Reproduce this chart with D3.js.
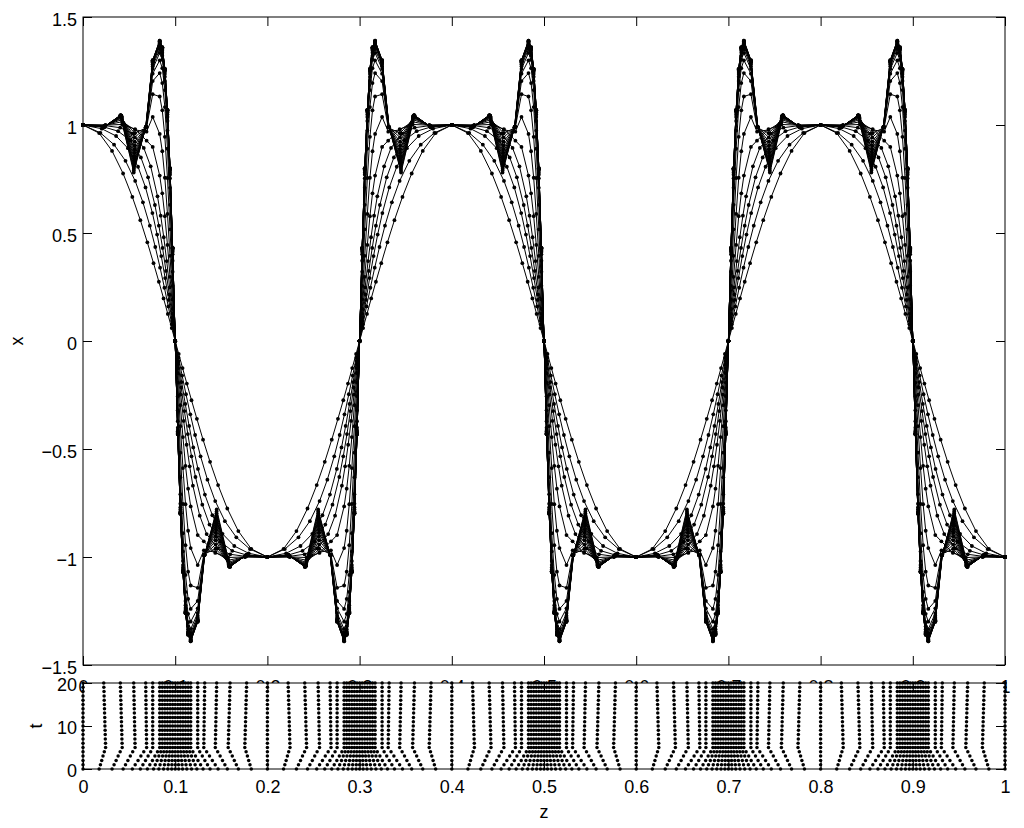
<!DOCTYPE html>
<html><head><meta charset="utf-8">
<script src="https://cdn.jsdelivr.net/npm/d3@7"></script>
<style>
body{margin:0;background:#fff}
svg{display:block}
text{font-family:"Liberation Sans",Arial,Helvetica,sans-serif;fill:#000}
</style>
</head><body>
<svg id="chart" width="1024" height="828"></svg>
<script>
// ---------------- data ----------------
// output times of the moving-mesh run
const times = [0,1,2,3,4,5,6,7,8,9,10,11,12,13,14,15,16,17,18,19,20];

// mesh node positions z on the base cell [0, 0.1] (13 nodes), one row per time
const meshZ = [
 [0,.0175,.0315,.0435,.0535,.0622,.0698,.0765,.0823,.0874,.0920,.0962,.1],
 [0,.0189,.0337,.0461,.0566,.0650,.0725,.0784,.0836,.0883,.0925,.0964,.1],
 [0,.0203,.0359,.0487,.0597,.0678,.0753,.0804,.0849,.0891,.0930,.0966,.1],
 [0,.0217,.0381,.0513,.0628,.0706,.0780,.0823,.0863,.0900,.0935,.0968,.1],
 [0,.0231,.0403,.0539,.0659,.0734,.0808,.0843,.0876,.0908,.0940,.0970,.1],
 [0,.0245,.0425,.0565,.0690,.0756,.0832,.0860,.0888,.0916,.0944,.0972,.1],
 [0,.0244,.0424,.0564,.0689,.0756,.0832,.0860,.0888,.0916,.0944,.0972,.1],
 [0,.0242,.0422,.0563,.0689,.0756,.0832,.0860,.0888,.0916,.0944,.0972,.1],
 [0,.0241,.0421,.0562,.0688,.0756,.0832,.0860,.0888,.0916,.0944,.0972,.1],
 [0,.0240,.0420,.0561,.0687,.0756,.0832,.0860,.0888,.0916,.0944,.0972,.1],
 [0,.0238,.0418,.0560,.0687,.0756,.0832,.0860,.0888,.0916,.0944,.0972,.1],
 [0,.0237,.0417,.0559,.0686,.0756,.0832,.0860,.0888,.0916,.0944,.0972,.1],
 [0,.0236,.0416,.0558,.0685,.0756,.0832,.0860,.0888,.0916,.0944,.0972,.1],
 [0,.0234,.0414,.0557,.0685,.0756,.0832,.0860,.0888,.0916,.0944,.0972,.1],
 [0,.0233,.0413,.0556,.0684,.0756,.0832,.0860,.0888,.0916,.0944,.0972,.1],
 [0,.0232,.0412,.0555,.0683,.0756,.0832,.0860,.0888,.0916,.0944,.0972,.1],
 [0,.0230,.0410,.0554,.0683,.0756,.0832,.0860,.0888,.0916,.0944,.0972,.1],
 [0,.0229,.0409,.0553,.0682,.0756,.0832,.0860,.0888,.0916,.0944,.0972,.1],
 [0,.0228,.0408,.0552,.0681,.0756,.0832,.0860,.0888,.0916,.0944,.0972,.1],
 [0,.0226,.0406,.0551,.0681,.0756,.0832,.0860,.0888,.0916,.0944,.0972,.1],
 [0,.0225,.0405,.0550,.0680,.0756,.0832,.0860,.0888,.0916,.0944,.0972,.1]
];

// solution x at those nodes, one row per time
const solX = [
 [1,.9625,.8801,.7755,.6672,.5596,.4567,.3602,.2744,.1969,.1253,.0597,0],
 [1,.9634,.9089,.8340,.7410,.6422,.5338,.4352,.3395,.2466,.1599,.0773,0],
 [1,.9828,.9491,.8925,.8067,.7112,.5921,.4927,.3932,.2911,.1900,.0931,0],
 [1,.9920,.9714,.9289,.8499,.7577,.6296,.5341,.4311,.3244,.2152,.1073,0],
 [1,.9974,.9875,.9603,.8938,.8088,.6700,.5802,.4803,.3701,.2480,.1260,0],
 [1,.9994,1.0024,.9810,.9276,.8983,.7658,.6835,.5780,.4449,.2969,.1491,0],
 [1,.9992,1.0150,.9774,.9689,1.0372,.9585,.8784,.7557,.5884,.3945,.1924,0],
 [1,.9983,1.0248,.9619,.9879,1.1425,1.1319,1.0678,.9451,.7546,.5169,.2553,0],
 [1,.9974,1.0315,.9427,.9916,1.2034,1.2406,1.1943,1.0830,.8901,.6305,.3208,0],
 [1,.9965,1.0360,.9230,.9916,1.2375,1.2994,1.2633,1.1616,.9740,.7093,.3715,0],
 [1,.9957,1.0392,.9054,.9911,1.2596,1.3339,1.3021,1.2041,1.0190,.7531,.4014,0],
 [1,.9949,1.0410,.8878,.9909,1.2719,1.3518,1.3210,1.2230,1.0373,.7698,.4125,0],
 [1,.9942,1.0423,.8724,.9906,1.2810,1.3647,1.3342,1.2356,1.0482,.7791,.4183,0],
 [1,.9935,1.0432,.8570,.9904,1.2871,1.3734,1.3435,1.2449,1.0573,.7877,.4241,0],
 [1,.9929,1.0437,.8438,.9903,1.2902,1.3782,1.3489,1.2511,1.0644,.7955,.4302,0],
 [1,.9923,1.0441,.8306,.9902,1.2932,1.3822,1.3528,1.2542,1.0663,.7963,.4303,0],
 [1,.9918,1.0443,.8196,.9902,1.2947,1.3842,1.3547,1.2558,1.0673,.7967,.4303,0],
 [1,.9913,1.0446,.8086,.9901,1.2962,1.3862,1.3566,1.2573,1.0683,.7971,.4303,0],
 [1,.9908,1.0448,.7976,.9900,1.2977,1.3882,1.3585,1.2589,1.0692,.7975,.4304,0],
 [1,.9904,1.0450,.7888,.9900,1.3000,1.3900,1.3600,1.2600,1.0700,.8000,.4300,0],
 [1,.9900,1.0450,.7800,.9900,1.3000,1.3900,1.3600,1.2600,1.0700,.8000,.4300,0]
];

const zTicks = [0,0.1,0.2,0.3,0.4,0.5,0.6,0.7,0.8,0.9,1];
const zTickLabels = ["0","0.1","0.2","0.3","0.4","0.5","0.6","0.7","0.8","0.9","1"];
const xTicks = [-1.5,-1,-0.5,0,0.5,1,1.5];
const xTickLabels = ["\u22121.5","\u22121","\u22120.5","0","0.5","1","1.5"];
const tTicks = [0,10,20];
const tTickLabels = ["0","10","20"];

// the solution is odd about z=0.1 and even about z=0.2 (period 0.4):
// the base cell is reflected to fill [0,1]
function fullRow(zb, xb){
  const n = zb.length - 1, pts = [];
  for (let k = 0; k < 10; k++){
    const off = 0.4*Math.floor(k/4), r = k % 4;
    for (let m = 0; m < n; m++){
      if (r===0) pts.push([off+zb[m], xb[m]]);
      else if (r===1) pts.push([off+0.2-zb[n-m], -xb[n-m]]);
      else if (r===2) pts.push([off+0.2+zb[m], -xb[m]]);
      else pts.push([off+0.4-zb[n-m], xb[n-m]]);
    }
  }
  pts.push([0.8+0.2+zb[0], -xb[0]]);
  return pts;
}
const rows = times.map((t,i)=>({t, pts: fullRow(meshZ[i], solX[i])}));

// ---------------- layout ----------------
const L=83, R=1005, T1=17, B1=665, T2=683, B2=769, TL=9, FS=18;
const svg = d3.select("#chart");
const zS = d3.scaleLinear().domain([0,1]).range([L,R]);
const xS = d3.scaleLinear().domain([-1.5,1.5]).range([B1,T1]);
const tS = d3.scaleLinear().domain([0,20]).range([B2,T2]);

function clean(g){
  g.select(".domain").remove();
  g.selectAll("line").attr("stroke","#000").attr("stroke-width",1);
  g.selectAll("text").style("font-size",FS+"px").attr("fill","#000");
}

// ---- top panel ----
const gTop = svg.append("g");
const line = d3.line().x(d=>zS(d[0])).y(d=>xS(d[1]));
rows.forEach(r=>{
  gTop.append("path").attr("d", line(r.pts)).attr("fill","none")
     .attr("stroke","#000").attr("stroke-width",1);
});
rows.forEach(r=>{
  gTop.append("g").selectAll("circle").data(r.pts).join("circle")
    .attr("cx",d=>zS(d[0])).attr("cy",d=>xS(d[1])).attr("r",1.9).attr("fill","#000");
});
gTop.append("g").attr("transform",`translate(0,${B1})`)
  .call(d3.axisBottom(zS).tickValues(zTicks).tickSize(-TL).tickPadding(15)
        .tickFormat((d,i)=>zTickLabels[i])).call(clean);
gTop.append("g").attr("transform",`translate(0,${T1})`)
  .call(d3.axisTop(zS).tickValues(zTicks).tickSize(-TL).tickFormat("")).call(clean);
const yl = gTop.append("g").attr("transform",`translate(${L},0)`)
  .call(d3.axisLeft(xS).tickValues(xTicks).tickSize(-TL).tickPadding(6)
        .tickFormat((d,i)=>xTickLabels[i])).call(clean);
yl.selectAll("text").attr("dy","0.45em");
gTop.append("g").attr("transform",`translate(${R},0)`)
  .call(d3.axisRight(xS).tickValues(xTicks).tickSize(-TL).tickFormat("")).call(clean);
gTop.append("rect").attr("x",L).attr("y",T1).attr("width",R-L).attr("height",B1-T1)
  .attr("fill","none").attr("stroke","#000").attr("stroke-width",1);
svg.append("text").attr("transform",`translate(23,${(T1+B1)/2}) rotate(-90)`)
  .attr("text-anchor","middle").style("font-size",FS+"px").text("x");

// ---- bottom panel (mesh trajectories) ----
const gBot = svg.append("g");
gBot.append("rect").attr("x",L).attr("y",T2).attr("width",R-L).attr("height",B2-T2).attr("fill","#fff");
rows.forEach(r=>{
  gBot.append("g").selectAll("circle").data(r.pts).join("circle")
    .attr("cx",d=>zS(d[0])).attr("cy",tS(r.t)).attr("r",1.75).attr("fill","#000");
});
gBot.append("g").attr("transform",`translate(0,${B2})`)
  .call(d3.axisBottom(zS).tickValues(zTicks).tickSize(-TL).tickPadding(11)
        .tickFormat((d,i)=>zTickLabels[i])).call(clean);
gBot.append("g").attr("transform",`translate(0,${T2})`)
  .call(d3.axisTop(zS).tickValues(zTicks).tickSize(-TL).tickFormat("")).call(clean);
const tl = gBot.append("g").attr("transform",`translate(${L},0)`)
  .call(d3.axisLeft(tS).tickValues(tTicks).tickSize(-TL).tickPadding(6)
        .tickFormat((d,i)=>tTickLabels[i])).call(clean);
tl.selectAll("text").attr("dy","0.4em");
gBot.append("g").attr("transform",`translate(${R},0)`)
  .call(d3.axisRight(tS).tickValues(tTicks).tickSize(-TL).tickFormat("")).call(clean);
gBot.append("rect").attr("x",L).attr("y",T2).attr("width",R-L).attr("height",B2-T2)
  .attr("fill","none").attr("stroke","#000").attr("stroke-width",1);
svg.append("text").attr("transform",`translate(42,${(T2+B2)/2}) rotate(-90)`)
  .attr("text-anchor","middle").style("font-size",FS+"px").text("t");
svg.append("text").attr("x",(L+R)/2).attr("y",818).attr("text-anchor","middle")
  .style("font-size",FS+"px").text("z");
</script>
</body></html>
